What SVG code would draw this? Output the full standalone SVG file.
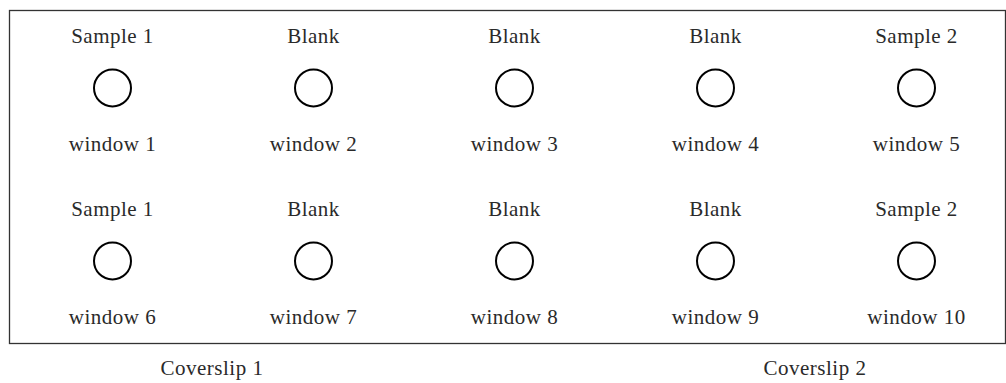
<svg xmlns="http://www.w3.org/2000/svg" width="1006" height="383" viewBox="0 0 1006 383">
<style>
.t{font-family:"Liberation Serif","Times New Roman",serif;font-size:21px;letter-spacing:0.5px;fill:#2a2a2a;text-anchor:middle}
.w{fill:none;stroke:#000;stroke-width:2}
.frame{fill:none;stroke:#333;stroke-width:1.3}
</style>
<rect width="1006" height="383" fill="#fff"/>
<rect class="frame" x="9.5" y="10.5" width="996" height="333"/>
<g id="w1"><text class="t" x="112.5" y="43">Sample 1</text><circle class="w" cx="112.5" cy="88" r="18.5"/><text class="t" x="112.5" y="151">window 1</text></g>
<g id="w2"><text class="t" x="313.5" y="43">Blank</text><circle class="w" cx="313.5" cy="88" r="18.5"/><text class="t" x="313.5" y="151">window 2</text></g>
<g id="w3"><text class="t" x="514.5" y="43">Blank</text><circle class="w" cx="514.5" cy="88" r="18.5"/><text class="t" x="514.5" y="151">window 3</text></g>
<g id="w4"><text class="t" x="715.5" y="43">Blank</text><circle class="w" cx="715.5" cy="88" r="18.5"/><text class="t" x="715.5" y="151">window 4</text></g>
<g id="w5"><text class="t" x="916.5" y="43">Sample 2</text><circle class="w" cx="916.5" cy="88" r="18.5"/><text class="t" x="916.5" y="151">window 5</text></g>
<g id="w6"><text class="t" x="112.5" y="216">Sample 1</text><circle class="w" cx="112.5" cy="261" r="18.5"/><text class="t" x="112.5" y="324">window 6</text></g>
<g id="w7"><text class="t" x="313.5" y="216">Blank</text><circle class="w" cx="313.5" cy="261" r="18.5"/><text class="t" x="313.5" y="324">window 7</text></g>
<g id="w8"><text class="t" x="514.5" y="216">Blank</text><circle class="w" cx="514.5" cy="261" r="18.5"/><text class="t" x="514.5" y="324">window 8</text></g>
<g id="w9"><text class="t" x="715.5" y="216">Blank</text><circle class="w" cx="715.5" cy="261" r="18.5"/><text class="t" x="715.5" y="324">window 9</text></g>
<g id="w10"><text class="t" x="916.5" y="216">Sample 2</text><circle class="w" cx="916.5" cy="261" r="18.5"/><text class="t" x="916.5" y="324">window 10</text></g>
<g id="connectors"></g>
<g id="cs1"><text class="t" x="212" y="375">Coverslip 1</text></g>
<g id="cs2"><text class="t" x="815" y="375">Coverslip 2</text></g>
</svg>
